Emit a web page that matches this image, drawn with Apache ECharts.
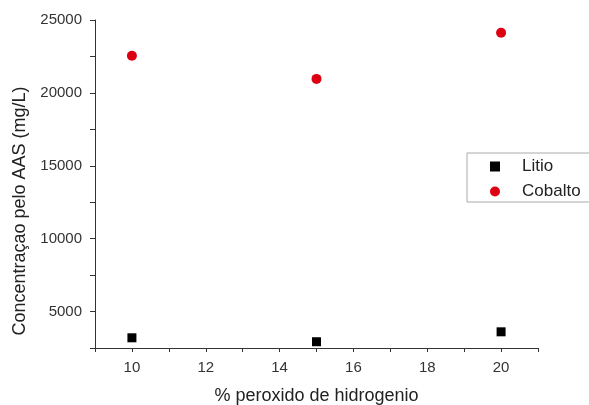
<!DOCTYPE html>
<html><head><meta charset="utf-8">
<script src="https://cdn.jsdelivr.net/npm/echarts@6/dist/echarts.min.js"></script>
<style>html,body{margin:0;padding:0;background:#fff}#c{width:589px;height:405px}</style>
</head><body><div id="c"></div>
<script>
const xValues = [10, 15, 20];
const litio = [3200, 2930, 3610];
const cobalto = [22550, 20960, 24130];
const seriesNames = ['Litio', 'Cobalto'];
const xTitle = '% peroxido de hidrogenio';
const yTitle = 'Concentraçao pelo AAS (mg/L)';

const chart = echarts.init(document.getElementById('c'), null, {renderer: 'canvas'});
const font = 'Liberation Sans, Arial, sans-serif';
chart.setOption({
  animation: false,
  backgroundColor: '#fff',
  grid: {left: 95, right: 51, top: 20, bottom: 57, containLabel: false, outerBoundsMode: 'none'},
  legend: {
    left: 467, top: 153, orient: 'vertical',
    padding: [5, 30, 2, 23], itemGap: 8, itemWidth: 10, itemHeight: 10,
    borderColor: '#aaa', borderWidth: 1,
    textStyle: {fontFamily: font, fontSize: 17, color: '#222', padding: [0, 0, 0, 17]},
    data: [{name: seriesNames[0], icon: 'rect'}, {name: seriesNames[1], icon: 'circle'}]
  },
  graphic: [{
    type: 'text',
    x: 20, y: 211,
    rotation: Math.PI / 2,
    style: {text: yTitle, font: '18px ' + font, fill: '#222',
      align: 'center', verticalAlign: 'middle'}
  }],
  xAxis: {
    type: 'value', min: 9, max: 21, interval: 1,
    name: xTitle, nameLocation: 'middle', nameGap: 39,
    nameTextStyle: {fontFamily: font, fontSize: 18, color: '#222'},
    splitLine: {show: false},
    axisLine: {onZero: false, lineStyle: {color: '#333', width: 1}},
    axisTick: {show: true, length: 4, inside: false, lineStyle: {color: '#333'}},
    axisLabel: {fontFamily: font, fontSize: 15, color: '#333', margin: 12,
      formatter: v => (v % 2 === 0 ? String(v) : '')}
  },
  yAxis: {
    type: 'value', min: 2500, max: 25000, interval: 2500,
    splitLine: {show: false},
    axisLine: {onZero: false, lineStyle: {color: '#333', width: 1}},
    axisTick: {show: true, length: 5, lineStyle: {color: '#333'}},
    axisLabel: {fontFamily: font, fontSize: 15, color: '#333', margin: 13,
      formatter: v => (v % 5000 === 0 ? String(v) : '')}
  },
  series: [
    {name: seriesNames[0], type: 'scatter', symbol: 'rect', symbolSize: 9,
     itemStyle: {color: '#000', opacity: 1}, data: xValues.map((x, i) => [x, litio[i]])},
    {name: seriesNames[1], type: 'scatter', symbol: 'circle', symbolSize: 10,
     itemStyle: {color: '#dc0012', opacity: 1}, data: xValues.map((x, i) => [x, cobalto[i]])}
  ]
});
</script></body></html>
